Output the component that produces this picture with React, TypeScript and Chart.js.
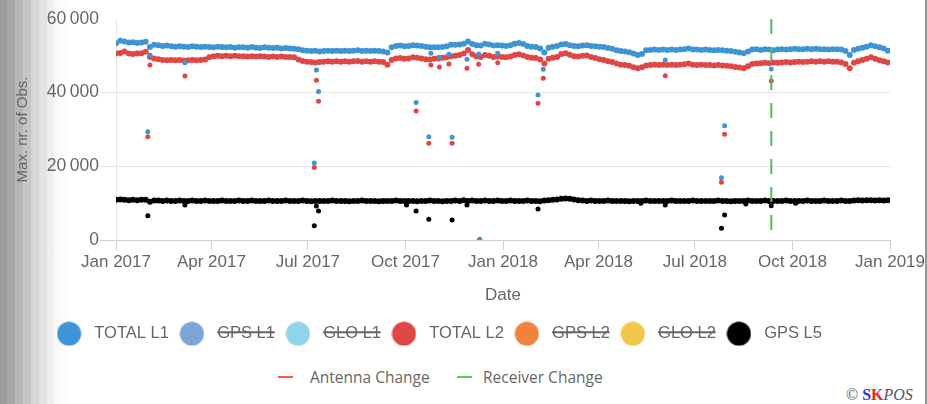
import React, { useEffect, useRef } from 'react';
import { Chart, registerables } from 'chart.js';

Chart.register(...registerables);

// x values are days since 1 Jan 2017; band values sampled every 4 days
const START_DAY = 0;
const STEP_DAYS = 4;

const X_TICK_DAYS = [0, 90, 181, 273, 365, 455, 546, 638, 730];
const X_TICK_LABELS = ['Jan 2017', 'Apr 2017', 'Jul 2017', 'Oct 2017', 'Jan 2018', 'Apr 2018', 'Jul 2018', 'Oct 2018', 'Jan 2019'];
const Y_TICK_VALUES = [0, 20000, 40000, 60000];
const Y_TICK_LABELS = ['0', '20\u2009000', '40\u2009000', '60\u2009000'];

const SERIES_NAMES = ['TOTAL L1', 'GPS L1', 'GLO L1', 'TOTAL L2', 'GPS L2', 'GLO L2', 'GPS L5'];
const SERIES_HIDDEN = [false, true, true, false, true, true, false];
const SERIES_COLORS = ['#3d95d5', '#7ba5d4', '#8fd4ea', '#df4747', '#f0823e', '#f2c54c', '#000000'];

const L1_VALUES = [
  53400, 54100, 53900, 53600, 53700, 53500, 53600, 53800, 52400, 53000,
  52900, 52700, 52800, 52600, 52500, 52600, 52500, 52400, 52600, 52500,
  52400, 52500, 52400, 52300, 52500, 52400, 52300, 52400, 52200, 52300,
  52300, 52200, 52400, 52200, 52100, 52300, 52200, 52100, 52200, 52000,
  52100, 52000, 51900, 51800, 51500, 51400, 51300, 51400, 51200, 51300,
  51400, 51300, 51400, 51300, 51400, 51300, 51400, 51500, 51300, 51400,
  51300, 51400, 51300, 51200, 50900, 52300, 52700, 52800, 52600, 52700,
  52900, 52800, 52700, 52500, 52300, 52300, 52300, 52400, 52600, 53000,
  53000, 53100, 53300, 53900, 53200, 52900, 52800, 53300, 53100, 52800,
  52900, 52800, 52700, 52900, 53300, 53500, 53200, 52700, 52500, 52400,
  52000, 50900, 52200, 52500, 52700, 53100, 53200, 52900, 52700, 52600,
  52800, 52900, 52700, 52600, 52500, 52400, 52100, 51900, 51500, 51300,
  51200, 51000, 50600, 50200, 50500, 51500, 51600, 51700, 51600, 51700,
  51600, 51700, 51600, 51700, 51800, 52000, 51700, 51700, 51600, 51700,
  51600, 51500, 51600, 51500, 51400, 51300, 51100, 50900, 50700, 51200,
  51700, 51800, 51600, 51800, 51700, 51500, 51700, 51800, 51700, 51800,
  51900, 51800, 51800, 51900, 51800, 51900, 51800, 51800, 51700, 51800,
  51800, 51700, 51300, 50200, 51600, 51900, 52200, 52500, 52900, 52600,
  52300, 52000, 51400,
];

const L2_VALUES = [
  50600, 50800, 51200, 50600, 50500, 50600, 50700, 51100, 49700, 49300,
  49100, 48900, 48800, 48900, 48800, 48900, 48700, 48800, 48900, 48800,
  48900, 49000, 49600, 49900, 50000, 49900, 50000, 49900, 50000, 49900,
  49900, 49800, 49900, 49800, 49900, 49800, 49700, 49800, 49700, 49800,
  49700, 49700, 49600, 49000, 48600, 48400, 48300, 48200, 48300, 48400,
  48500, 48400, 48500, 48400, 48500, 48400, 48500, 48600, 48400, 48500,
  48400, 48500, 48400, 48300, 47600, 48900, 49300, 49400, 49200, 49300,
  49600, 49500, 49300, 49100, 49000, 49200, 49300, 49500, 49600, 49900,
  50000, 50200, 50600, 51600, 50400, 49800, 49700, 50200, 50000, 49700,
  49800, 49700, 49600, 49800, 50200, 50400, 50100, 49700, 49500, 49400,
  49000, 47900, 49200, 49500, 49700, 50500, 50700, 50300, 49900, 49800,
  50000, 50100, 49700, 49400, 49100, 48900, 48500, 48300, 47900, 47600,
  47500, 47300, 46900, 46600, 46900, 47400, 47500, 47600, 47500, 47600,
  47500, 47600, 47500, 47600, 47700, 47900, 47600, 47500, 47600, 47500,
  47500, 47400, 47500, 47400, 47300, 47200, 47000, 46800, 46600, 47200,
  47800, 47900, 48000, 48100, 48000, 48200, 48100, 48200, 48300, 48200,
  48300, 48400, 48300, 48400, 48500, 48400, 48500, 48400, 48500, 48400,
  48400, 48200, 47800, 46600, 48100, 48500, 48900, 49200, 49600, 49200,
  48800, 48500, 48200,
];

const L5_VALUES = [
  10900, 11000, 10900, 10800, 10900, 10800, 10900, 10900, 10400, 10700,
  10700, 10600, 10700, 10600, 10600, 10700, 10600, 10600, 10700, 10600,
  10600, 10700, 10600, 10600, 10600, 10700, 10600, 10600, 10600, 10700,
  10600, 10600, 10700, 10600, 10600, 10600, 10700, 10600, 10600, 10600,
  10700, 10600, 10600, 10600, 10700, 10600, 10500, 10600, 10600, 10600,
  10600, 10700, 10600, 10600, 10600, 10500, 10600, 10600, 10700, 10600,
  10600, 10600, 10500, 10600, 10600, 10600, 10700, 10600, 10600, 10600,
  10600, 10500, 10600, 10600, 10700, 10600, 10600, 10500, 10600, 10600,
  10700, 10600, 10800, 10600, 10700, 10600, 10600, 10700, 10600, 10600,
  10700, 10600, 10600, 10700, 10600, 10600, 10600, 10700, 10600, 10600,
  10500, 10700, 10800, 10900, 11000, 11200, 11300, 11200, 11000, 10800,
  10700, 10600, 10700, 10600, 10600, 10600, 10700, 10600, 10600, 10600,
  10600, 10500, 10600, 10600, 10600, 10700, 10600, 10600, 10600, 10600,
  10600, 10700, 10600, 10600, 10600, 10600, 10700, 10600, 10600, 10600,
  10600, 10600, 10700, 10600, 10600, 10500, 10600, 10600, 10600, 10700,
  10600, 10600, 10600, 10700, 10600, 10600, 10600, 10600, 10700, 10600,
  10600, 10600, 10600, 10700, 10600, 10600, 10600, 10700, 10600, 10600,
  10600, 10700, 10600, 10600, 10700, 10800, 10700, 10800, 10800, 10700,
  10800, 10700, 10800,
];

// isolated observations (day, value)
const L1_OUT_DAYS = [30, 32, 65, 187, 189, 191, 283, 295, 297, 305, 314, 317, 331, 342, 343, 360, 398, 403, 518, 571, 574, 618];
const L1_OUT_VALUES = [29400, 50200, 48100, 20900, 46150, 40300, 37300, 28050, 50700, 49600, 50400, 27900, 49050, 50500, 200, 50700, 39400, 46350, 48900, 16900, 31000, 46400];
const L2_OUT_DAYS = [30, 32, 65, 187, 189, 191, 283, 295, 297, 305, 314, 317, 331, 342, 343, 360, 398, 403, 518, 571, 574, 618];
const L2_OUT_VALUES = [28050, 47500, 44500, 19700, 43400, 37700, 35000, 26250, 47500, 47000, 47800, 26250, 46600, 47700, 100, 48150, 37100, 43900, 44600, 15650, 28700, 43200];
const L5_OUT_DAYS = [30, 65, 187, 189, 191, 274, 283, 295, 317, 331, 343, 398, 495, 518, 571, 574, 594, 618, 641];
const L5_OUT_VALUES = [6600, 9500, 3900, 9200, 7900, 9500, 7870, 5600, 5430, 9500, 0, 8400, 9950, 9500, 3170, 6800, 9770, 9300, 9950];

const ANTENNA_CHANGE_DAYS: number[] = [];
const RECEIVER_CHANGE_DAYS = [618];

const FONT = "'Liberation Sans', Arial, sans-serif";
const TEXT = '#666666';
const CANVAS_SHIFT = 18;
const BAND_RADIUS = 3;
const OUTLIER_RADIUS = 2.5;

export default function App() {
  const ref = useRef<HTMLCanvasElement>(null);

  useEffect(() => {
    const canvas = ref.current;
    if (!canvas) return;

    const dot = (c: string) => {
      const cv = document.createElement('canvas');
      cv.width = 25;
      cv.height = 25;
      const g = cv.getContext('2d')!;
      g.fillStyle = c;
      g.beginPath();
      g.arc(12.5, 12.5, 12, 0, Math.PI * 2);
      g.fill();
      return cv;
    };
    const legendDots = SERIES_COLORS.map(dot);

    const band = (vals: number[]) => vals.map((v, i) => ({ x: START_DAY + i * STEP_DAYS, y: v }));
    const pts = (days: number[], vals: number[]) => days.map((d, k) => ({ x: d, y: vals[k] }));
    const radii = (nBand: number, nOut: number) => [
      ...new Array(nBand).fill(BAND_RADIUS),
      ...new Array(nOut).fill(OUTLIER_RADIUS),
    ];
    const seriesData = [
      [...band(L1_VALUES), ...pts(L1_OUT_DAYS, L1_OUT_VALUES)],
      [], [],
      [...band(L2_VALUES), ...pts(L2_OUT_DAYS, L2_OUT_VALUES)],
      [], [],
      [...band(L5_VALUES), ...pts(L5_OUT_DAYS, L5_OUT_VALUES)],
    ];
    const seriesRadii = [
      radii(L1_VALUES.length, L1_OUT_DAYS.length),
      [], [],
      radii(L2_VALUES.length, L2_OUT_DAYS.length),
      [], [],
      radii(L5_VALUES.length, L5_OUT_DAYS.length),
    ];

    const datasets: any[] = SERIES_NAMES.map((name, i) => ({
      label: name,
      data: seriesData[i],
      hidden: SERIES_HIDDEN[i],
      backgroundColor: SERIES_COLORS[i],
      borderColor: SERIES_COLORS[i],
      pointRadius: seriesRadii[i],
      pointHoverRadius: seriesRadii[i],
      pointBorderWidth: 0,
      showLine: false,
    }));
    const vline = (d: number) => [{ x: d, y: 60000 }, { x: d, y: 0 }];
    datasets.push({
      label: 'Antenna Change',
      data: ANTENNA_CHANGE_DAYS.flatMap(vline),
      showLine: true,
      borderColor: '#ff5555',
      borderWidth: 2,
      borderDash: [15, 13],
      pointRadius: 0,
      order: -1,
    });
    datasets.push({
      label: 'Receiver Change',
      data: RECEIVER_CHANGE_DAYS.flatMap(vline),
      showLine: true,
      borderColor: '#5bb85b',
      borderWidth: 2,
      borderDash: [15, 13],
      pointRadius: 0,
      order: -1,
    });

    const defaultGen = (Chart as any).defaults.plugins.legend.labels.generateLabels;

    const chart = new Chart(canvas, {
      type: 'scatter',
      data: { datasets },
      options: {
        responsive: false,
        maintainAspectRatio: false,
        animation: false,
        events: [],
        layout: { padding: { top: 19, left: 0, right: 35, bottom: 0 } },
        plugins: {
          tooltip: { enabled: false },
          legend: {
            position: 'bottom',
            labels: {
              usePointStyle: true,
              pointStyleWidth: 34,
              padding: 6,
              color: TEXT,
              font: { family: FONT, size: 16.5 },
              filter: (item: any) => item.datasetIndex < SERIES_NAMES.length,
              generateLabels: (c: any) =>
                defaultGen(c).map((it: any) => ({ ...it, pointStyle: legendDots[it.datasetIndex] })),
            },
          },
        },
        scales: {
          x: {
            type: 'linear',
            min: X_TICK_DAYS[0],
            max: X_TICK_DAYS[X_TICK_DAYS.length - 1],
            afterBuildTicks: (s: any) => {
              s.ticks = X_TICK_DAYS.map((v) => ({ value: v }));
            },
            afterFit: (s: any) => {
              s.height = 79.5;
            },
            ticks: {
              autoSkip: false,
              maxRotation: 0,
              padding: 2,
              color: TEXT,
              font: { family: FONT, size: 17 },
              callback: (v: any) => X_TICK_LABELS[X_TICK_DAYS.indexOf(Number(v))],
            },
            grid: { drawOnChartArea: false, drawTicks: true, tickLength: 10, color: '#d0d0d0' },
            border: { display: true, color: '#d0d0d0' },
            title: {
              display: true,
              text: 'Date',
              color: TEXT,
              font: { family: FONT, size: 17 },
              padding: { top: 4, bottom: 14 },
            },
          },
          y: {
            min: 0,
            max: 60000,
            afterBuildTicks: (s: any) => {
              s.ticks = Y_TICK_VALUES.map((v) => ({ value: v }));
            },
            afterFit: (s: any) => {
              s.width = 116 + CANVAS_SHIFT;
            },
            ticks: {
              padding: 1,
              color: TEXT,
              font: { family: FONT, size: 17.5 },
              callback: (v: any) => Y_TICK_LABELS[Y_TICK_VALUES.indexOf(Number(v))],
            },
            grid: {
              tickLength: 16,
              color: (ctx: any) => {
                const v = ctx.tick ? ctx.tick.value : -1;
                if (v === 60000) return 'rgba(0,0,0,0)';
                if (v === 0) return '#d0d0d0';
                return '#e6e6e6';
              },
            },
            border: { display: true, color: '#e6e6e6' },
            title: {
              display: true,
              text: 'Max. nr. of Obs.',
              color: TEXT,
              font: { family: FONT, size: 15 },
              padding: { top: 32, bottom: 0 },
            },
          },
        },
      } as any,
    });
    return () => chart.destroy();
  }, []);

  return (
    <div style={{ position: 'absolute', left: 0, top: 0, width: 927, height: 404, overflow: 'hidden', background: '#ffffff' }}>
      <div
        style={{
          position: 'absolute', left: 0, top: 0, width: 70, height: 404,
          background:
            'linear-gradient(to right, #9a9a9a 0px, #9a9a9a 7px, #a7a7a7 7px, #a7a7a7 15px, #b6b6b6 15px, #b6b6b6 23px, #c6c6c6 23px, #c6c6c6 31px, #d6d6d6 31px, #d6d6d6 39px, #e3e3e3 39px, #e3e3e3 47px, #efefef 47px, #efefef 54px, #f8f8f8 54px, #ffffff 70px)',
        }}
      />
      <canvas
        ref={ref}
        width={927 + CANVAS_SHIFT}
        height={352}
        style={{ position: 'absolute', left: -CANVAS_SHIFT, top: 0, width: 927 + CANVAS_SHIFT, height: 352 }}
      />
      <div style={{ position: 'absolute', left: 278, top: 376, width: 15, height: 2, background: '#ff5555' }} />
      <div style={{ position: 'absolute', left: 310, top: 367, fontFamily: "'Open Sans', sans-serif", fontSize: 15.5, lineHeight: '20px', color: TEXT, whiteSpace: 'nowrap' }}>
        Antenna Change
      </div>
      <div style={{ position: 'absolute', left: 457, top: 376, width: 15, height: 2, background: '#44dd44' }} />
      <div style={{ position: 'absolute', left: 483, top: 367, fontFamily: "'Open Sans', sans-serif", fontSize: 15.5, lineHeight: '20px', color: TEXT, whiteSpace: 'nowrap' }}>
        Receiver Change
      </div>
      <div style={{ position: 'absolute', left: 846, top: 386, fontFamily: "'Liberation Serif', serif", fontSize: 16, lineHeight: '18px', color: '#555555', whiteSpace: 'nowrap' }}>
        ©{' '}
        <b style={{ color: '#2233ee' }}>S</b>
        <b style={{ color: '#ee2222' }}>K</b>
        <i>POS</i>
      </div>
      <div style={{ position: 'absolute', left: 925, top: 0, width: 2, height: 404, background: '#999999' }} />
    </div>
  );
}
